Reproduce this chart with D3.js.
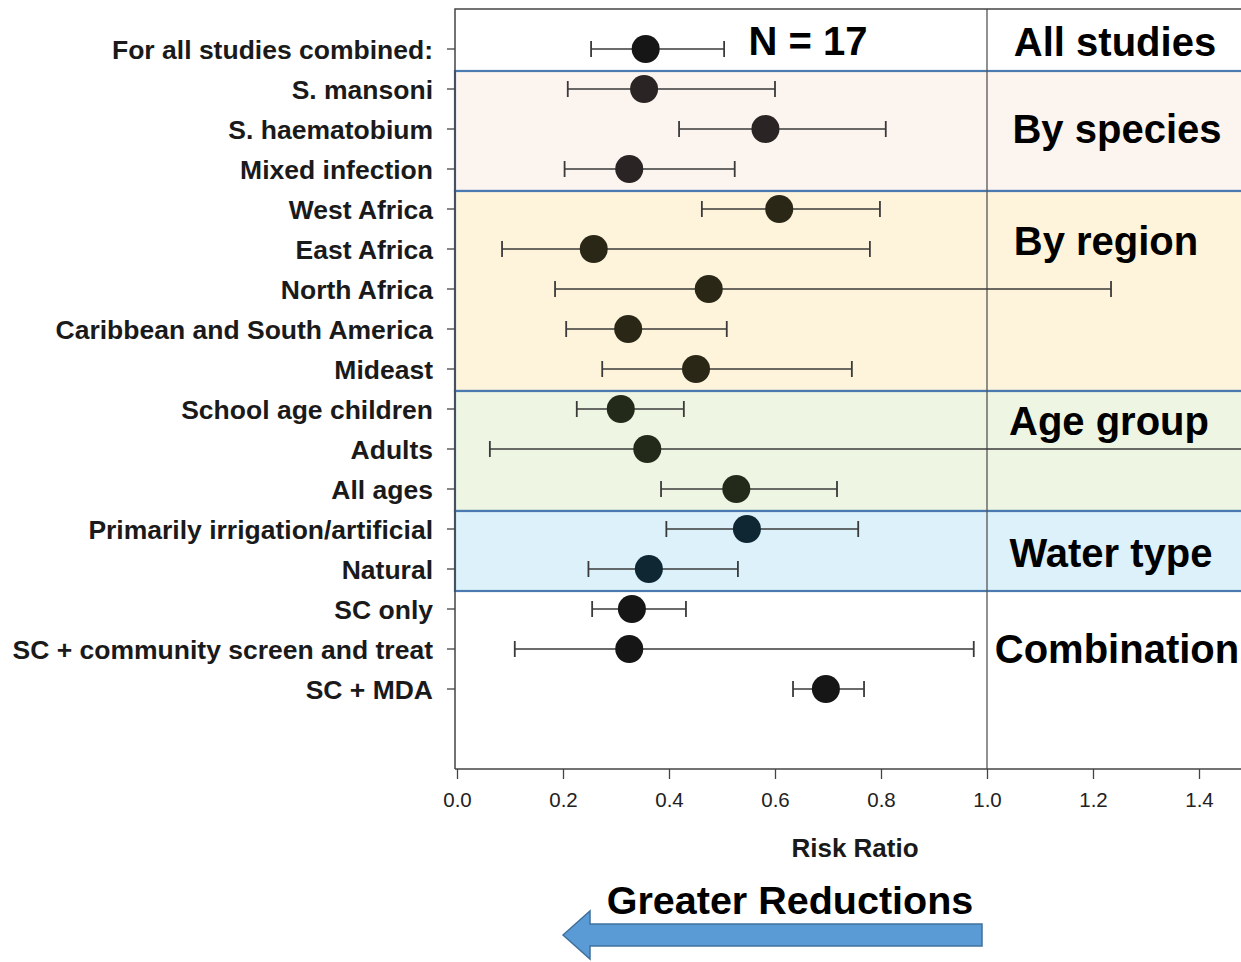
<!DOCTYPE html>
<html>
<head>
<meta charset="utf-8">
<script src="https://cdn.jsdelivr.net/npm/d3@7"></script>
<style>
  body { margin:0; background:#fff; }
  svg text { font-family: "Liberation Sans", Arial, sans-serif; }
  .lbl { font-weight:bold; font-size:26.5px; fill:#1a1a1a; }
  .grp { font-weight:bold; font-size:40px; fill:#000; }
  .tick text { font-size:20.5px; fill:#222; }
</style>
</head>
<body>
<svg id="chart" width="1241" height="962"></svg>
<script>
// rows top to bottom
const labels = [
  "For all studies combined:", "S. mansoni", "S. haematobium", "Mixed infection",
  "West Africa", "East Africa", "North Africa", "Caribbean and South America", "Mideast",
  "School age children", "Adults", "All ages",
  "Primarily irrigation/artificial", "Natural",
  "SC only", "SC + community screen and treat", "SC + MDA"
];
const rr    = [0.356, 0.353, 0.582, 0.325, 0.608, 0.258, 0.475, 0.323, 0.451, 0.309, 0.359, 0.527, 0.547, 0.362, 0.330, 0.325, 0.696];
const lower = [0.253, 0.209, 0.419, 0.203, 0.462, 0.085, 0.185, 0.206, 0.274, 0.226, 0.062, 0.385, 0.395, 0.248, 0.255, 0.109, 0.634];
const upper = [0.504, 0.600, 0.809, 0.524, 0.798, 0.779, 1.234, 0.509, 0.745, 0.428, 1.600, 0.717, 0.757, 0.530, 0.432, 0.975, 0.768];

// groups: first row, last row, label, and where the label sits
const groups     = ["All studies", "By species", "By region", "Age group", "Water type", "Combination"];
const groupStart = [0, 1, 4, 9, 12, 14];
const groupEnd   = [0, 3, 8, 11, 13, 16];
const groupLabelRow = [-0.18, 2, 4.78, 9.28, 12.58, 15];
const groupLabelX   = [1115, 1117, 1106, 1109, 1111, 1117];
const groupFill  = [null, "#fcf4ef", "#fef4dc", "#eef5e3", "#ddf1fa", null];
const dotFill    = ["#161616", "#2a2524", "#2b2717", "#232a1a", "#0f2733", "#161616"];

const xTicks = [0, 0.2, 0.4, 0.6, 0.8, 1.0, 1.2, 1.4];

const svg = d3.select("#chart");
const m = {left:455, right:1241, top:9, bottom:769};

const x = d3.scaleLinear().domain([0, 1.4]).range([457, 1199]);
const y = d3.scaleLinear().domain([-1, 18]).range([m.top, m.bottom]);
const xMax = x.invert(m.right);

svg.append("clipPath").attr("id","plotclip")
  .append("rect").attr("x", m.left).attr("y", m.top)
  .attr("width", m.right - m.left).attr("height", m.bottom - m.top);

// group bands
const bandEdge = i => y(i) + 2;
groups.forEach((g, gi) => {
  if (!groupFill[gi]) return;
  const y0 = bandEdge(groupStart[gi] - 0.5), y1 = bandEdge(groupEnd[gi] + 0.5);
  svg.append("rect")
    .attr("x", m.left).attr("y", y0)
    .attr("width", m.right - m.left + 5).attr("height", y1 - y0)
    .attr("fill", groupFill[gi])
    .attr("stroke", "#4a7ab0").attr("stroke-width", 2.2);
});

// reference line at 1
svg.append("line")
  .attr("x1", x(1)).attr("x2", x(1))
  .attr("y1", m.top).attr("y2", m.bottom)
  .attr("stroke", "#555").attr("stroke-width", 1.3);

// frame (top + left)
svg.append("path")
  .attr("d", `M${m.right},${m.top}H${m.left}V${m.bottom}`)
  .attr("fill", "none").attr("stroke", "#444").attr("stroke-width", 1.5);

// x axis
const xAxis = svg.append("g")
  .attr("transform", `translate(0,${m.bottom})`)
  .call(d3.axisBottom(x).tickValues(xTicks).tickFormat(d3.format(".1f")).tickSize(10).tickPadding(13));
xAxis.select(".domain").attr("d", `M${m.left},0H${m.right}`).attr("stroke", "#444").attr("stroke-width", 1.5);
xAxis.selectAll(".tick line").attr("stroke", "#444").attr("stroke-width", 1.3);
xAxis.selectAll(".tick text").attr("fill", "#222");

// y ticks + labels
const rows = svg.append("g");
labels.forEach((lab, i) => {
  rows.append("line")
    .attr("x1", m.left - 8).attr("x2", m.left)
    .attr("y1", y(i)).attr("y2", y(i))
    .attr("stroke", "#444").attr("stroke-width", 1.3);
  rows.append("text").attr("class", "lbl")
    .attr("x", 433).attr("y", y(i)).attr("dy", "0.36em")
    .attr("text-anchor", "end").text(lab);
});

// error bars
const bars = svg.append("g").attr("clip-path", "url(#plotclip)");
const groupOf = i => groupStart.findIndex((s, gi) => i >= s && i <= groupEnd[gi]);
rr.forEach((v, i) => {
  const yy = y(i);
  bars.append("line")
    .attr("x1", x(lower[i])).attr("x2", x(Math.min(upper[i], xMax + 1)))
    .attr("y1", yy).attr("y2", yy)
    .attr("stroke", "#3a3a3a").attr("stroke-width", 1.6);
  [lower[i], upper[i]].forEach(c => {
    if (c > xMax) return;
    bars.append("line")
      .attr("x1", x(c)).attr("x2", x(c))
      .attr("y1", yy - 8).attr("y2", yy + 8)
      .attr("stroke", "#3a3a3a").attr("stroke-width", 1.8);
  });
  bars.append("circle")
    .attr("cx", x(v)).attr("cy", yy).attr("r", 14)
    .attr("fill", dotFill[groupOf(i)]);
});

// group labels
groups.forEach((g, gi) => {
  svg.append("text").attr("class", "grp")
    .attr("x", groupLabelX[gi]).attr("y", y(groupLabelRow[gi])).attr("dy", "0.36em")
    .attr("text-anchor", "middle").text(g);
});
svg.append("text").attr("class", "grp")
  .attr("x", 808).attr("y", y(-0.2)).attr("dy", "0.36em")
  .attr("text-anchor", "middle").text("N = 17");

// axis title
svg.append("text")
  .attr("x", 855).attr("y", 848).attr("dy", "0.36em")
  .attr("text-anchor", "middle")
  .style("font-weight", "bold").style("font-size", "26px").attr("fill", "#1a1a1a")
  .text("Risk Ratio");

// direction note + arrow
svg.append("text")
  .attr("x", 790).attr("y", 900).attr("dy", "0.36em")
  .attr("text-anchor", "middle")
  .style("font-weight", "bold").style("font-size", "39.5px").attr("fill", "#000")
  .text("Greater Reductions");

const arrowTip = 563, arrowBase = 590, arrowEnd = 982, cy = 935;
svg.append("path")
  .attr("d", `M${arrowTip},${cy} L${arrowBase},${cy - 24} L${arrowBase},${cy - 11} L${arrowEnd},${cy - 11} L${arrowEnd},${cy + 11} L${arrowBase},${cy + 11} L${arrowBase},${cy + 24} Z`)
  .attr("fill", "#5b9bd5").attr("stroke", "#41719c").attr("stroke-width", 1.5);
</script>
</body>
</html>
